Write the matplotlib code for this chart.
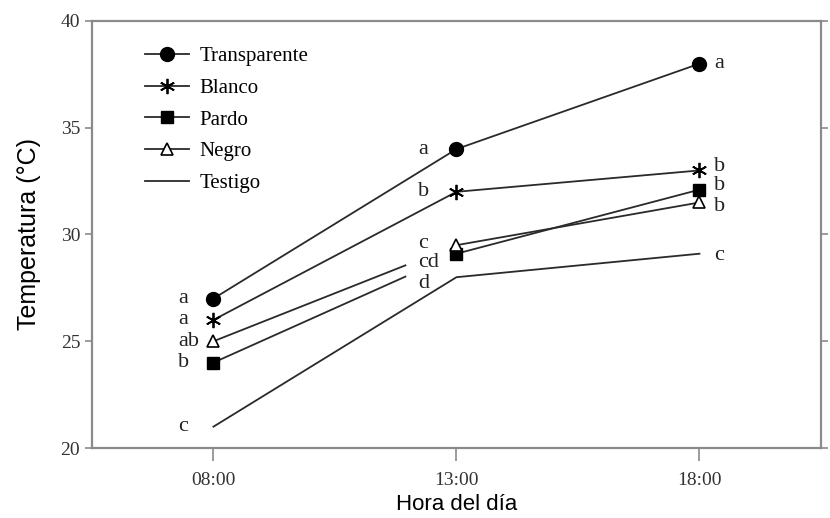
import numpy as np
import matplotlib.pyplot as plt

hours = ["08:00", "13:00", "18:00"]
transparente = [27.0, 34.0, 38.0]
blanco = [26.0, 32.0, 33.0]
pardo = [24.0, 29.1, 32.1]
negro = [25.0, 29.5, 31.5]
testigo = [21.0, 28.0, 29.1]

# significance letters per hour
let_transparente = ["a", "a", "a"]
let_blanco = ["a", "b", "b"]
let_pardo = ["b", "cd", "b"]
let_negro = ["ab", "c", "b"]
let_testigo = ["c", "d", "c"]

SERIF = "Liberation Serif"
SANS = "Liberation Sans"
LINE = "#2a2a2a"
SPINE = "#8a8a8a"

fig = plt.figure(figsize=(8.3, 5.18), dpi=100)
ax = fig.add_axes([0.1108, 0.1351, 0.8783, 0.8244])
x = np.arange(len(hours))

lw = 1.3
ax.plot(x, transparente, color=LINE, lw=lw, marker="o", ms=10, mfc="black", mec="black", label="Transparente")
ax.plot(x, blanco, color=LINE, lw=lw, marker=(6, 2, 0), ms=11, mec="black", mew=1.3, label="Blanco")

# Pardo and Negro: the 08:00 segment stops short of 13:00 in the original figure
frac = 0.79
for vals, kw, lab in [
    (pardo, dict(marker="s", ms=8.5, mfc="black", mec="black"), "Pardo"),
    (negro, dict(marker="^", ms=9, mfc="white", mec="black", mew=1.2), "Negro"),
]:
    x_end = x[0] + frac * (x[1] - x[0])
    y_end = vals[0] + frac * (vals[1] - vals[0])
    ax.plot([x[0], x_end], [vals[0], y_end], color=LINE, lw=lw)
    ax.plot(x[1:], vals[1:], color=LINE, lw=lw)
    ax.plot(x, vals, ls="none", **kw)
    ax.plot([], [], color=LINE, lw=lw, label=lab, **kw)

ax.plot(x, testigo, color=LINE, lw=lw, label="Testigo")

# letters
letter_kw = dict(textcoords="offset pixels", fontsize=16, family=SERIF, color="#222222", va="center")
series = [
    (transparente, let_transparente, [0, 0, 0]),
    (blanco, let_blanco, [0, 0, 4]),
    (pardo, let_pardo, [0, -9, 4]),
    (negro, let_negro, [0, 2, -4]),
    (testigo, let_testigo, [0, -6, -2]),
]
for vals, lets, dys in series:
    for i, (v, l, dy) in enumerate(zip(vals, lets, dys)):
        dx = [-35, -38, 15][i]
        ax.annotate(l, (x[i], v), xytext=(dx, dy), ha="left", **letter_kw)

ax.set_xlim(-0.5, 2.5)
ax.set_ylim(20, 40)
ax.set_xticks(x)
ax.set_xticklabels(hours)
ax.set_yticks([20, 25, 30, 35, 40])

for s in ax.spines.values():
    s.set_color(SPINE)
    s.set_linewidth(1.6)

ax.tick_params(axis="x", direction="out", length=9, width=1.2, color=SPINE, pad=8)
ax.tick_params(axis="y", direction="out", length=5, width=1.2, color=SPINE, right=True)
for lab in ax.get_xticklabels() + ax.get_yticklabels():
    lab.set_family(SERIF)
    lab.set_fontsize(14)
    lab.set_color("#333333")

ax.set_xlabel("Hora del día", family=SANS, fontsize=16, labelpad=4)
ax.set_ylabel("Temperatura (°C)", family=SANS, fontsize=18, labelpad=14)

leg = ax.legend(loc="upper left", bbox_to_anchor=(0.073, 0.94), frameon=False,
                borderpad=0, borderaxespad=0, handlelength=2.1, handletextpad=0.5,
                labelspacing=0.58, prop={"family": SERIF, "size": 15})

fig.savefig("out.png", dpi=100)
